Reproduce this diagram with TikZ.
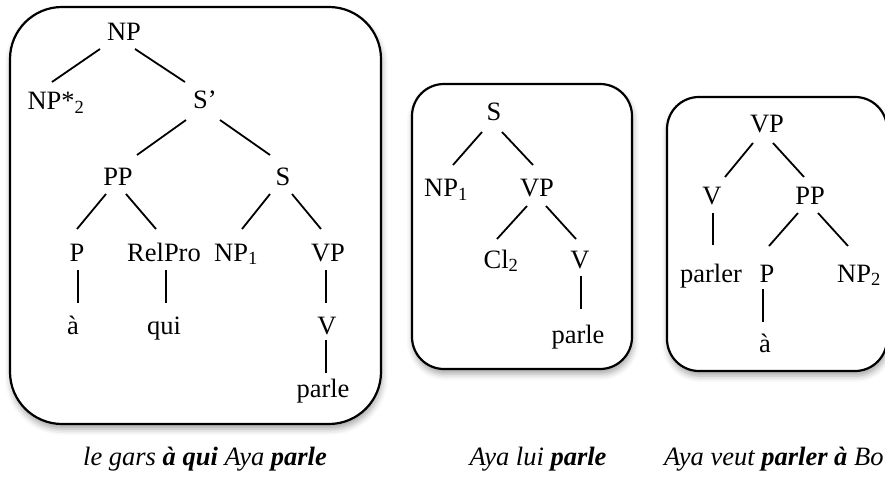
\documentclass[tikz,border=0pt]{standalone}
\usepackage{fontspec}
\setmainfont{Liberation Serif}
\usetikzlibrary{shadows.blur}
\begin{document}
\begin{tikzpicture}[x=1pt,y=-1pt,
  lbl/.style={inner sep=0pt,anchor=base,font=\fontsize{26.5}{30}\selectfont},
  captext/.style={inner sep=0pt,anchor=base,font=\fontsize{26.5}{30}\selectfont\itshape},
  treeline/.style={line width=1.8pt},
  boxframe/.style={draw,line width=2.2pt,fill=white,inner sep=0pt,
    blur shadow={shadow xshift=1pt,shadow yshift=-5pt,shadow blur radius=6pt,shadow opacity=35}}
]
\useasboundingbox (0,0) rectangle (885,486);
\clip (0,0) rectangle (885,486);
% frames
\node[boxframe,rounded corners=52pt,minimum width=371pt,minimum height=417pt] (box1) at (195.5,215.5) {};
\node[boxframe,rounded corners=32pt,minimum width=220pt,minimum height=285pt] (box2) at (522,226.5) {};
\node[boxframe,rounded corners=32pt,minimum width=220pt,minimum height=274pt] (box3) at (777,234) {};
% tree 1
\node[lbl] (np) at (124,41) {NP};
\node[lbl] (npstar) at (56,110) {NP*\textsubscript{2}};
\node[lbl] (sbar) at (205,109) {S’};
\node[lbl] (pp) at (118,186) {PP};
\node[lbl] (s) at (283,186) {S};
\node[lbl] (p) at (77,261) {P};
\node[lbl] (relpro) at (164,261) {RelPro};
\node[lbl] (np1) at (236,261) {NP\textsubscript{1}};
\node[lbl] (vp) at (328,261) {VP};
\node[lbl] (a1) at (73,334) {à};
\node[lbl] (qui) at (164,334) {qui};
\node[lbl] (v) at (327,334) {V};
\node[lbl] (parle) at (323,397) {parle};
\draw[treeline] ([shift={(-24,8)}]np.base) -- ([shift={(-4,-28)}]npstar.base);
\draw[treeline] ([shift={(11,8)}]np.base) -- ([shift={(-20,-27)}]sbar.base);
\draw[treeline] ([shift={(-19,11)}]sbar.base) -- ([shift={(19,-31)}]pp.base);
\draw[treeline] ([shift={(15,11)}]sbar.base) -- ([shift={(-13,-31)}]s.base);
\draw[treeline] ([shift={(-12,8)}]pp.base) -- ([shift={(0,-32)}]p.base);
\draw[treeline] ([shift={(8,8)}]pp.base) -- ([shift={(-8,-32)}]relpro.base);
\draw[treeline] ([shift={(-13,8)}]s.base) -- ([shift={(6,-32)}]np1.base);
\draw[treeline] ([shift={(9,8)}]s.base) -- ([shift={(-7,-32)}]vp.base);
\draw[treeline] ([shift={(1,9)}]p.base) -- ([shift={(5,-31)}]a1.base);
\draw[treeline] ([shift={(2,9)}]relpro.base) -- ([shift={(2,-31)}]qui.base);
\draw[treeline] ([shift={(-2,9)}]vp.base) -- ([shift={(-1,-31)}]v.base);
\draw[treeline] ([shift={(-1,6)}]v.base) -- ([shift={(3,-24)}]parle.base);
% tree 2
\node[lbl] (s2) at (494,121) {S};
\node[lbl] (np1b) at (446,197) {NP\textsubscript{1}};
\node[lbl] (vp2) at (537,197) {VP};
\node[lbl] (cl2) at (501,268) {Cl\textsubscript{2}};
\node[lbl] (v2) at (580,268) {V};
\node[lbl] (parle2) at (578,343) {parle};
\draw[treeline] ([shift={(-12,11)}]s2.base) -- ([shift={(7,-32)}]np1b.base);
\draw[treeline] ([shift={(8,11)}]s2.base) -- ([shift={(-4,-32)}]vp2.base);
\draw[treeline] ([shift={(-10,9)}]vp2.base) -- ([shift={(-4,-29)}]cl2.base);
\draw[treeline] ([shift={(9,9)}]vp2.base) -- ([shift={(-4,-29)}]v2.base);
\draw[treeline] ([shift={(1,8)}]v2.base) -- ([shift={(3,-34)}]parle2.base);
% tree 3
\node[lbl] (vp3) at (767,133) {VP};
\node[lbl] (v3) at (712,205) {V};
\node[lbl] (pp3) at (810,205) {PP};
\node[lbl] (parler) at (711,282) {parler};
\node[lbl] (p3) at (767,282) {P};
\node[lbl] (np2) at (859,282) {NP\textsubscript{2}};
\node[lbl] (a3) at (765,352) {à};
\draw[treeline] ([shift={(-14,10)}]vp3.base) -- ([shift={(13,-28)}]v3.base);
\draw[treeline] ([shift={(6,10)}]vp3.base) -- ([shift={(-6,-28)}]pp3.base);
\draw[treeline] ([shift={(1,8)}]v3.base) -- ([shift={(2,-37)}]parler.base);
\draw[treeline] ([shift={(-12,8)}]pp3.base) -- ([shift={(2,-36)}]p3.base);
\draw[treeline] ([shift={(8,8)}]pp3.base) -- ([shift={(-11,-36)}]np2.base);
\draw[treeline] ([shift={(-4,7)}]p3.base) -- ([shift={(-2,-30)}]a3.base);
% captions
\node[captext] (cap1) at (205,465) {le gars \textbf{à qui} Aya \textbf{parle}};
\node[captext] (cap2) at (538,465) {Aya lui \textbf{parle}};
\node[captext,anchor=base west] (cap3) at (664,465) {Aya veut \textbf{parler à} Bo};
\end{tikzpicture}
\end{document}
